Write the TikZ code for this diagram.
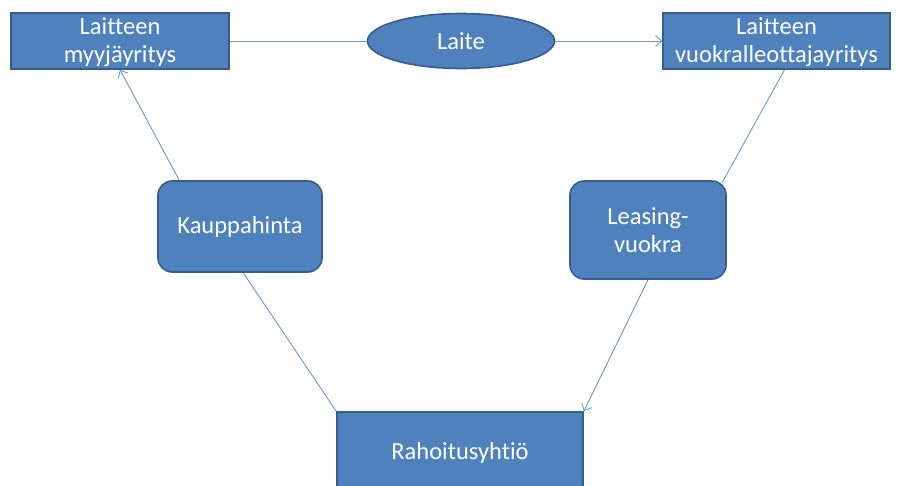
\documentclass[tikz,border=0pt]{standalone}
\usepackage{fontspec}
\setmainfont[Ligatures=NoCommon]{Carlito}
\usetikzlibrary{shapes.geometric,arrows.meta}
\definecolor{boxfill}{HTML}{4F81BD}
\definecolor{boxline}{HTML}{385D8A}
\definecolor{conn}{HTML}{6D96CC}
\begin{document}
\begin{tikzpicture}[x=1pt,y=-1pt,
  every node/.style={text=white,font=\fontsize{24.5}{27.5}\selectfont,align=center,inner sep=0pt},
  sqbox/.style={draw=boxline,fill=boxfill,line width=1.6pt,rectangle},
  rbox/.style={draw=boxline,fill=boxfill,line width=1.6pt,rectangle,rounded corners=14pt},
  ellbox/.style={draw=boxline,fill=boxfill,line width=1.6pt,ellipse},
  link/.style={draw=conn,line width=0.9pt},
  arr/.style={link,-{Straight Barb[length=6pt,width=11pt,line width=0.9pt]}}]
\useasboundingbox (0,0) rectangle (901,486);
\begin{scope}
\clip (0,0) rectangle (901,486);
% connectors behind boxes
\coordinate (kbot) at (240,268);
\node[sqbox,minimum width=246pt,minimum height=90pt] (rah) at (460,457) {};
\draw[link] (rah.north west) -- (kbot);
\node[sqbox,minimum width=218pt,minimum height=56pt,text depth=2pt] (myy) at (120,41) {Laitteen\\myyjäyritys};
\node[ellbox,minimum width=187pt,minimum height=55pt] (laite) at (461,41) {Laite};
\node[sqbox,minimum width=227pt,minimum height=56pt,text depth=2pt] (vuo) at (776.5,41) {Laitteen\\vuokralleottajayritys};
\node[rbox,minimum width=164pt,minimum height=91pt] (kau) at (240,226.5) {Kauppahinta};
\node[rbox,minimum width=156pt,minimum height=98pt] (lea) at (648,230) {Leasing-\\vuokra};
\node at (460,453) {Rahoitusyhtiö};
\draw[link] (myy.east) -- (laite.west);
\draw[arr] (laite.east) -- (vuo.west);
\coordinate (vs) at ([xshift=8pt]vuo.south);
\coordinate (le) at ([xshift=-5pt,yshift=-3pt]lea.north east);
\draw[link] (vs) -- (le);
\draw[arr] (lea.south) -- (rah.north east);
\coordinate (ks) at ([xshift=22pt]kau.north west);
\draw[arr] (ks) -- (myy.south);
\end{scope}
\end{tikzpicture}
\end{document}
